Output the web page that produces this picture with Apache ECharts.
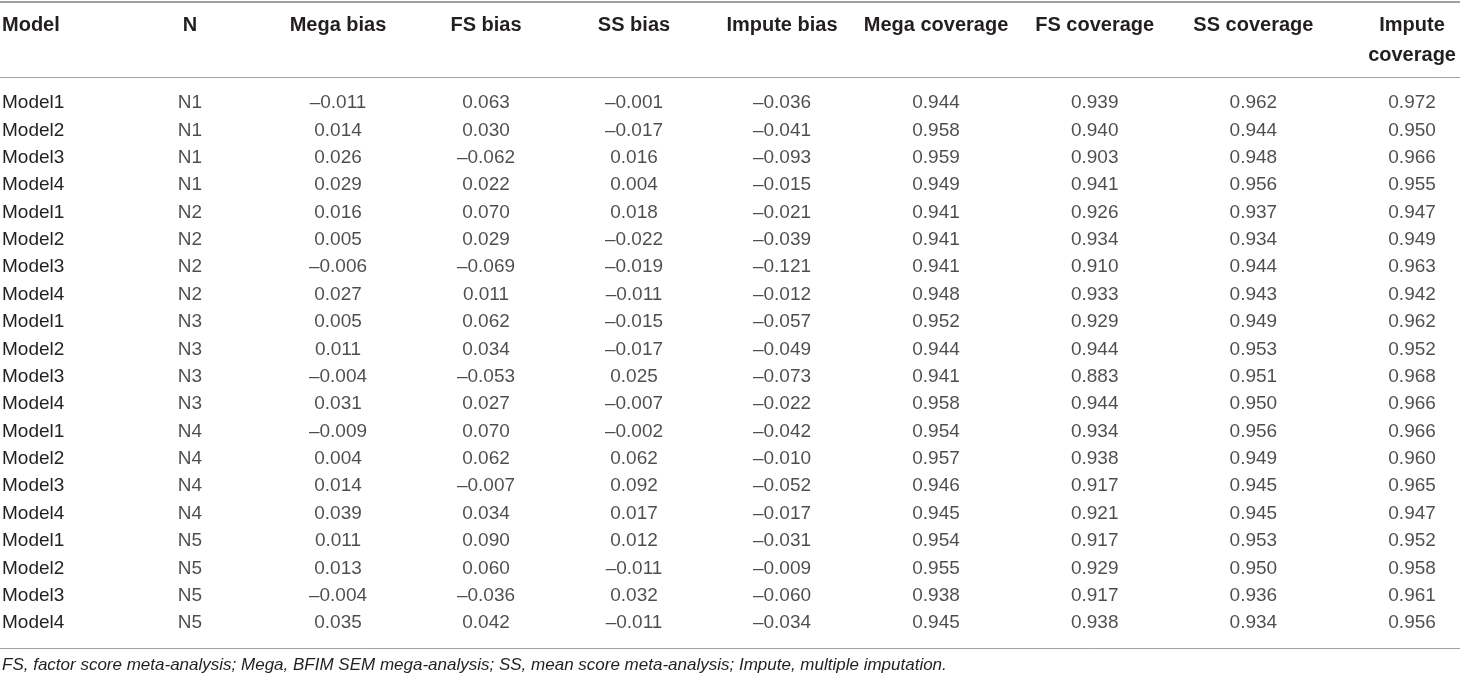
<!DOCTYPE html>
<html><head><meta charset="utf-8">
<script src="https://cdn.jsdelivr.net/npm/echarts@6/dist/echarts.min.js"></script>
<style>html,body{margin:0;padding:0;background:#fff}#c{width:1460px;height:679px}</style>
</head><body><div id="c"></div>
<script>
const headers = ['Model','N','Mega bias','FS bias','SS bias','Impute bias','Mega coverage','FS coverage','SS coverage','Impute\ncoverage'];
const models = ['Model1','Model2','Model3','Model4','Model1','Model2','Model3','Model4','Model1','Model2','Model3','Model4','Model1','Model2','Model3','Model4','Model1','Model2','Model3','Model4'];
const nLevels = ['N1','N1','N1','N1','N2','N2','N2','N2','N3','N3','N3','N3','N4','N4','N4','N4','N5','N5','N5','N5'];
const megaBias   = [-0.011,0.014,0.026,0.029,0.016,0.005,-0.006,0.027,0.005,0.011,-0.004,0.031,-0.009,0.004,0.014,0.039,0.011,0.013,-0.004,0.035];
const fsBias     = [0.063,0.030,-0.062,0.022,0.070,0.029,-0.069,0.011,0.062,0.034,-0.053,0.027,0.070,0.062,-0.007,0.034,0.090,0.060,-0.036,0.042];
const ssBias     = [-0.001,-0.017,0.016,0.004,0.018,-0.022,-0.019,-0.011,-0.015,-0.017,0.025,-0.007,-0.002,0.062,0.092,0.017,0.012,-0.011,0.032,-0.011];
const imputeBias = [-0.036,-0.041,-0.093,-0.015,-0.021,-0.039,-0.121,-0.012,-0.057,-0.049,-0.073,-0.022,-0.042,-0.010,-0.052,-0.017,-0.031,-0.009,-0.060,-0.034];
const megaCov    = [0.944,0.958,0.959,0.949,0.941,0.941,0.941,0.948,0.952,0.944,0.941,0.958,0.954,0.957,0.946,0.945,0.954,0.955,0.938,0.945];
const fsCov      = [0.939,0.940,0.903,0.941,0.926,0.934,0.910,0.933,0.929,0.944,0.883,0.944,0.934,0.938,0.917,0.921,0.917,0.929,0.917,0.938];
const ssCov      = [0.962,0.944,0.948,0.956,0.937,0.934,0.944,0.943,0.949,0.953,0.951,0.950,0.956,0.949,0.945,0.945,0.953,0.950,0.936,0.934];
const imputeCov  = [0.972,0.950,0.966,0.955,0.947,0.949,0.963,0.942,0.962,0.952,0.968,0.966,0.966,0.960,0.965,0.947,0.952,0.958,0.961,0.956];
const footnote = 'FS, factor score meta-analysis; Mega, BFIM SEM mega-analysis; SS, mean score meta-analysis; Impute, multiple imputation.';

const FONT = 'Liberation Sans';
const TXT = '#231f20';
const LINE = '#a0a0a0';
const rowIds = models.map((m, i) => String(i));
const fmt = v => (v < 0 ? '\u2013' : '') + Math.abs(v).toFixed(3);

const ROW_TOP = 89.3, ROW_H = 547.4;
const gridBase = { top: ROW_TOP, height: ROW_H, outerBoundsMode: 'none', containLabel: false };

const hiddenY = gi => ({
  type: 'category', gridIndex: gi, data: rowIds, inverse: true, show: false
});
const headerX = (gi, data) => ({
  type: 'category', gridIndex: gi, data: data, position: 'top', offset: ROW_TOP - 77,
  axisLine: { show: false }, axisTick: { show: false }, splitLine: { show: false },
  axisLabel: { interval: 0, margin: 67, verticalAlign: 'top', lineHeight: 30,
    fontFamily: FONT, fontSize: 20, fontWeight: 'bold', color: TXT }
});
const lineX = (position, offset, width) => ({
  type: 'value', gridIndex: 0, position: position, offset: offset, min: 0, max: 1,
  axisLine: { show: true, onZero: false, lineStyle: { color: LINE, width: width } },
  axisTick: { show: false }, axisLabel: { show: false }, splitLine: { show: false }
});

const cellSeries = (xi, gi, col, vals, formatter) => ({
  type: 'scatter', xAxisIndex: xi, yAxisIndex: gi, symbol: 'circle', symbolSize: 1,
  itemStyle: { color: 'rgba(0,0,0,0)' }, silent: true,
  data: vals.map((v, i) => [col, i, v]),
  label: { show: true, position: 'inside', fontFamily: FONT, fontSize: 19, color: TXT,
    formatter: formatter }
});

const chart = echarts.init(document.getElementById('c'), null, { renderer: 'canvas' });
chart.setOption({
  animation: false,
  backgroundColor: '#fff',
  title: {
    text: footnote, left: 2, top: 655, padding: 0,
    textStyle: { fontFamily: FONT, fontSize: 17, fontStyle: 'italic', fontWeight: 'normal', color: TXT, lineHeight: 20 }
  },
  grid: [
    Object.assign({ left: 0, width: 1460 }, gridBase),
    Object.assign({ left: 116, width: 740 }, gridBase),
    Object.assign({ left: 856.7, width: 634.7 }, gridBase)
  ],
  xAxis: [
    lineX('top', ROW_TOP - 77, 1),
    lineX('top', ROW_TOP - 1.3, 2),
    lineX('bottom', 648 - (ROW_TOP + ROW_H), 1),
    headerX(1, headers.slice(1, 6)),
    headerX(2, headers.slice(6))
  ],
  yAxis: [
    {
      type: 'category', gridIndex: 0, data: rowIds, inverse: true,
      axisLine: { show: false }, axisTick: { show: false }, splitLine: { show: false },
      axisLabel: { inside: true, margin: 2, interval: 0, fontFamily: FONT, fontSize: 19, color: TXT,
        formatter: (val, idx) => models[idx] },
      name: headers[0], nameLocation: 'start', nameGap: ROW_TOP - 10,
      nameTextStyle: { fontFamily: FONT, fontSize: 20, fontWeight: 'bold', color: TXT,
        align: 'left', verticalAlign: 'top', lineHeight: 30, padding: [0, 0, 0, 2] }
    },
    hiddenY(1),
    hiddenY(2)
  ],
  series: [
    cellSeries(3, 1, 0, nLevels, p => nLevels[p.dataIndex]),
    cellSeries(3, 1, 1, megaBias, p => fmt(p.value[2])),
    cellSeries(3, 1, 2, fsBias, p => fmt(p.value[2])),
    cellSeries(3, 1, 3, ssBias, p => fmt(p.value[2])),
    cellSeries(3, 1, 4, imputeBias, p => fmt(p.value[2])),
    cellSeries(4, 2, 0, megaCov, p => fmt(p.value[2])),
    cellSeries(4, 2, 1, fsCov, p => fmt(p.value[2])),
    cellSeries(4, 2, 2, ssCov, p => fmt(p.value[2])),
    cellSeries(4, 2, 3, imputeCov, p => fmt(p.value[2]))
  ]
});
</script></body></html>
